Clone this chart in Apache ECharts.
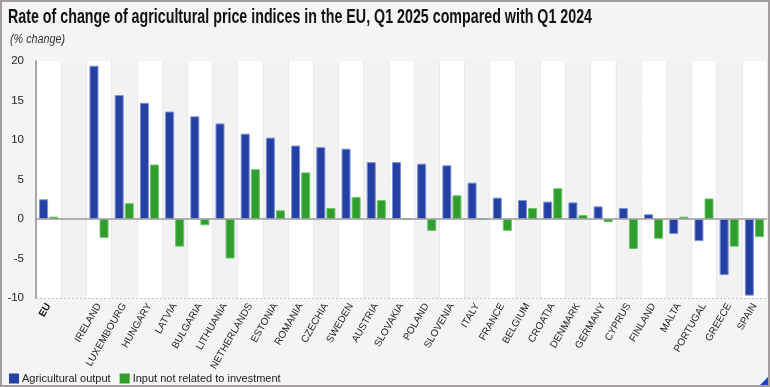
<!DOCTYPE html>
<html>
<head>
<meta charset="utf-8">
<script src="https://cdn.jsdelivr.net/npm/echarts@6/dist/echarts.min.js"></script>
<style>
html,body{margin:0;padding:0;background:#f4f4f4;}
#wrap{position:absolute;left:0;top:0;width:766px;height:383px;border:2px solid #a39d9d;background:#f4f4f4;}
#c{width:766px;height:383px;}
#corner{position:absolute;right:0;bottom:0;width:0;height:0;border-left:8px solid transparent;border-bottom:8px solid #1c45c8;}
</style>
</head>
<body>
<div id="wrap"><div id="c"></div><div id="corner"></div></div>
<script>
const categories = ["EU", "", "IRELAND", "LUXEMBOURG", "HUNGARY", "LATVIA", "BULGARIA", "LITHUANIA", "NETHERLANDS", "ESTONIA", "ROMANIA", "CZECHIA", "SWEDEN", "AUSTRIA", "SLOVAKIA", "POLAND", "SLOVENIA", "ITALY", "FRANCE", "BELGIUM", "CROATIA", "DENMARK", "GERMANY", "CYPRUS", "FINLAND", "MALTA", "PORTUGAL", "GREECE", "SPAIN"];
const agriculturalOutput = [2.5, null, 19.4, 15.7, 14.7, 13.6, 13.0, 12.1, 10.8, 10.3, 9.3, 9.1, 8.9, 7.2, 7.2, 7.0, 6.8, 4.6, 2.7, 2.4, 2.2, 2.1, 1.6, 1.4, 0.6, -1.9, -2.8, -7.1, -9.7];
const inputNotInvestment = [0.3, null, -2.4, 2.0, 6.9, -3.5, -0.8, -5.0, 6.3, 1.1, 5.9, 1.4, 2.8, 2.4, 0.0, -1.5, 3.0, 0.0, -1.5, 1.4, 3.9, 0.5, -0.4, -3.8, -2.5, 0.3, 2.6, -3.5, -2.3];
const yTicks = {min: -10, max: 20, interval: 5};
const titleText = "Rate of change of agricultural price indices in the EU, Q1 2025 compared with Q1 2024";
const subtitleText = "(% change)";
const seriesNames = ["Agricultural output", "Input not related to investment"];

const FONT = "'Liberation Sans', Arial, sans-serif";
function measure(txt, font) {
  const ctx = document.createElement('canvas').getContext('2d');
  ctx.font = font;
  return ctx.measureText(txt).width;
}
const titleFont = "bold 19.5px 'Liberation Sans'";
const titleScale = 584 / measure(titleText, titleFont);
const subFont = "italic 12px 'Liberation Sans'";
const subScale = 55 / measure(subtitleText, subFont);

const chart = echarts.init(document.getElementById('c'), null, {renderer: 'canvas'});
chart.setOption({
  backgroundColor: '#f4f4f4',
  animation: false,
  graphic: [
    {type: 'text', x: 6, y: 16, scaleX: titleScale, silent: true,
     style: {text: titleText, font: titleFont, fill: '#111', verticalAlign: 'middle'}},
    {type: 'text', x: 8, y: 38, scaleX: subScale, silent: true,
     style: {text: subtitleText, font: subFont, fill: '#333', verticalAlign: 'middle'}}
  ],
  legend: {
    left: 7, bottom: 1, padding: 0, itemWidth: 10, itemHeight: 10, itemGap: 9, icon: 'rect',
    itemStyle: {borderWidth: 0},
    textStyle: {fontFamily: FONT, fontSize: 11, color: '#222', padding: [0,0,0,-2]},
    data: seriesNames
  },
  grid: {left: 34, right: 1, top: 59, bottom: 87, containLabel: false},
  xAxis: {
    type: 'category', data: categories,
    axisLine: {show: false, onZero: false},
    axisTick: {show: false},
    splitArea: {show: true, areaStyle: {color: ['#ffffff', '#f2f2f2']}},
    splitLine: {show: true, lineStyle: {color: '#e9e9e9', width: 1}},
    axisLabel: {
      interval: 0, rotate: 60, margin: 6, fontFamily: FONT, fontSize: 10, color: '#222',
      formatter: v => v === 'EU' ? '{b|EU}' : v,
      rich: {b: {fontFamily: FONT, fontSize: 10, fontWeight: 'bold', color: '#111'}}
    }
  },
  yAxis: {
    type: 'value', min: yTicks.min, max: yTicks.max, interval: yTicks.interval,
    axisLine: {show: true, lineStyle: {color: '#a8a8a8', width: 2}},
    axisTick: {show: false},
    splitLine: {show: true, lineStyle: {color: '#c9c9c9', type: [2, 2], width: 1}},
    axisLabel: {fontFamily: FONT, fontSize: 11.5, color: '#222', margin: 12}
  },
  series: [
    {
      name: seriesNames[0], type: 'bar', data: agriculturalOutput, barWidth: 9, barGap: '12%',
      itemStyle: {color: '#2440a3', borderColor: '#7d8fd6', borderWidth: 1},
      markLine: {silent: true, symbol: 'none', label: {show: false},
        lineStyle: {color: '#9a9a9a', type: 'solid', width: 1.5}, data: [{yAxis: 0}]}
    },
    {
      name: seriesNames[1], type: 'bar', data: inputNotInvestment, barWidth: 9,
      itemStyle: {color: '#2f9e2c', borderColor: '#6cc46a', borderWidth: 1}
    }
  ]
});
</script>
</body>
</html>
